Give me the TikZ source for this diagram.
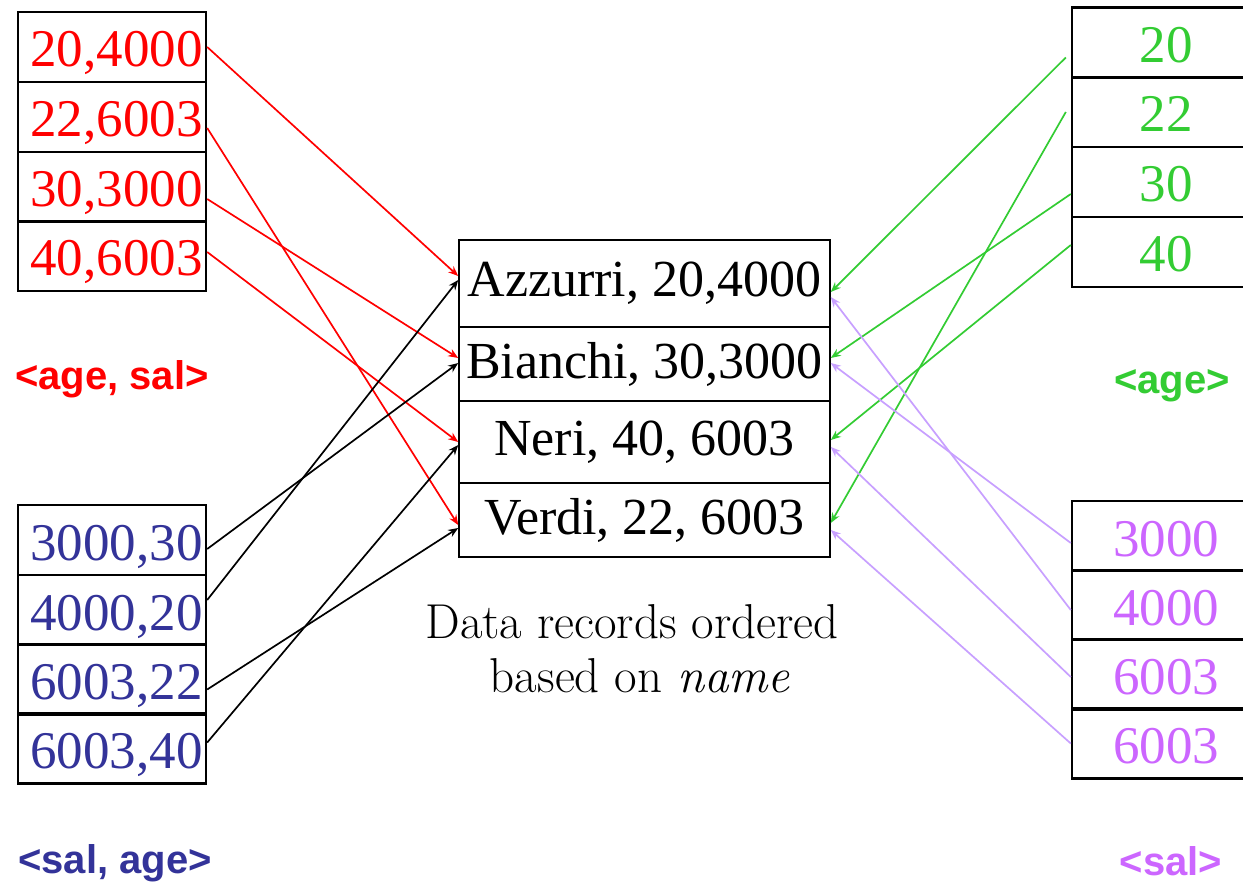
\documentclass[tikz,border=0pt]{standalone}
\usepackage{fontspec}
\setmainfont{Liberation Serif}
\newfontfamily\lmfont{Latin Modern Roman}
\newfontfamily\labfont{Liberation Sans}
\usetikzlibrary{arrows.meta}
\definecolor{cred}{HTML}{FF0000}
\definecolor{cblue}{HTML}{333399}
\definecolor{cgreen}{HTML}{33CC33}
\definecolor{cpurple}{HTML}{CC66FF}
\definecolor{cpurplearrow}{HTML}{C8A0FF}
\tikzset{
  cell/.style={draw, line width=2.4pt, minimum width=188pt, minimum height=70pt, inner sep=0pt, text height=47pt, text depth=7pt, font=\fontsize{53}{60}\selectfont},
  lcell/.style={cell, execute at begin node=\hspace*{9pt}},
  rec/.style={draw, line width=1.6pt, minimum width=371pt, inner sep=0pt, font=\fontsize{52}{58}\selectfont},
  lab/.style={anchor=base, inner sep=0pt, font=\labfont\bfseries\fontsize{40}{46}\selectfont},
  captext/.style={anchor=base, inner sep=0pt, font=\lmfont\fontsize{49}{56}\selectfont},
  conn/.style={line width=1.7pt, -{Stealth[length=10pt,width=8pt]}}
}
\begin{document}
\begin{tikzpicture}[x=1pt,y=-1pt]
\clip (0,0) rectangle (1243,885);
\fill[white] (0,0) rectangle (1243,885);
% left top <age, sal>
\node[lcell, text=cred] (a1) at (112,47) {20,4000};
\node[lcell, text=cred] (a2) at (112,117) {22,6003};
\node[lcell, text=cred] (a3) at (112,187) {30,3000};
\node[lcell, text=cred] (a4) at (112,256) {40,6003};
% left bottom <sal, age>
\node[lcell, text=cblue] (b1) at (112,540) {3000,30};
\node[lcell, text=cblue] (b2) at (112,610) {4000,20};
\node[lcell, text=cblue] (b3) at (112,679.5) {6003,22};
\node[lcell, text=cblue] (b4) at (112,748.5) {6003,40};
% right top <age>
\node[cell, text=cgreen] (g1) at (1166,42.5) {20};
\node[cell, text=cgreen] (g2) at (1166,112) {22};
\node[cell, text=cgreen] (g3) at (1166,182) {30};
\node[cell, text=cgreen] (g4) at (1166,252) {40};
% right bottom <sal>
\node[cell, text=cpurple] (p1) at (1166,536) {3000};
\node[cell, text=cpurple] (p2) at (1166,605) {4000};
\node[cell, text=cpurple] (p3) at (1166,674.5) {6003};
\node[cell, text=cpurple] (p4) at (1166,743.5) {6003};
% data records
\node[rec, minimum height=87pt] (c1) at (644.5,283.5) {Azzurri, 20,4000};
\node[rec, minimum height=74pt] (c2) at (644.5,364) {Bianchi, 30,3000};
\node[rec, minimum height=82pt] (c3) at (644.5,442) {Neri, 40, 6003};
\node[rec, minimum height=74pt] (c4) at (644.5,520) {Verdi, 22, 6003};
% labels
\node[lab, text=cred] (l1) at (112,389) {<age, sal>};
\node[lab, text=cblue] (l2) at (115,873) {<sal, age>};
\node[lab, text=cgreen] (l3) at (1172,393) {<age>};
\node[lab, text=cpurple] (l4) at (1171,875) {<sal>};
\node[captext] (t1) at (632,638) {Data records ordered};
\node[captext] (t2) at (640,692) {based on \textit{name}};
% red arrows
\draw[conn, cred] (a1.east) -- ([yshift=7.5pt]c1.west);
\draw[conn, cred] ([yshift=-11pt]a2.east) -- ([yshift=-5pt]c4.west);
\draw[conn, cred] ([yshift=-12pt]a3.east) -- ([yshift=6pt]c2.west);
\draw[conn, cred] ([yshift=4pt]a4.east) -- (c3.west);
% black arrows
\draw[conn, black] ([yshift=-9pt]b1.east) -- ([yshift=1pt]c2.west);
\draw[conn, black] ([yshift=10pt]b2.east) -- ([yshift=3.5pt]c1.west);
\draw[conn, black] ([yshift=-10pt]b3.east) -- ([yshift=-8pt]c4.west);
\draw[conn, black] ([yshift=6pt]b4.east) -- ([yshift=-3pt]c3.west);
% green arrows
\draw[conn, cgreen] ([yshift=-15pt,xshift=-5pt]g1.west) -- ([yshift=-8.5pt]c1.east);
\draw[conn, cgreen] ([xshift=-5pt]g2.west) -- ([yshift=-3pt]c4.east);
\draw[conn, cgreen] ([yshift=-12pt]g3.west) -- ([yshift=6pt]c2.east);
\draw[conn, cgreen] ([yshift=7pt]g4.west) -- ([yshift=2pt]c3.east);
% purple arrows
\draw[conn, cpurplearrow] ([yshift=-7pt]p1.west) -- ([yshift=1pt]c2.east);
\draw[conn, cpurplearrow] ([yshift=-5pt]p2.west) -- ([yshift=-13.5pt]c1.east);
\draw[conn, cpurplearrow] ([yshift=-2.5pt]p3.west) -- ([yshift=-5pt]c3.east);
\draw[conn, cpurplearrow] (p4.west) -- ([yshift=-10pt]c4.east);
\end{tikzpicture}
\end{document}
